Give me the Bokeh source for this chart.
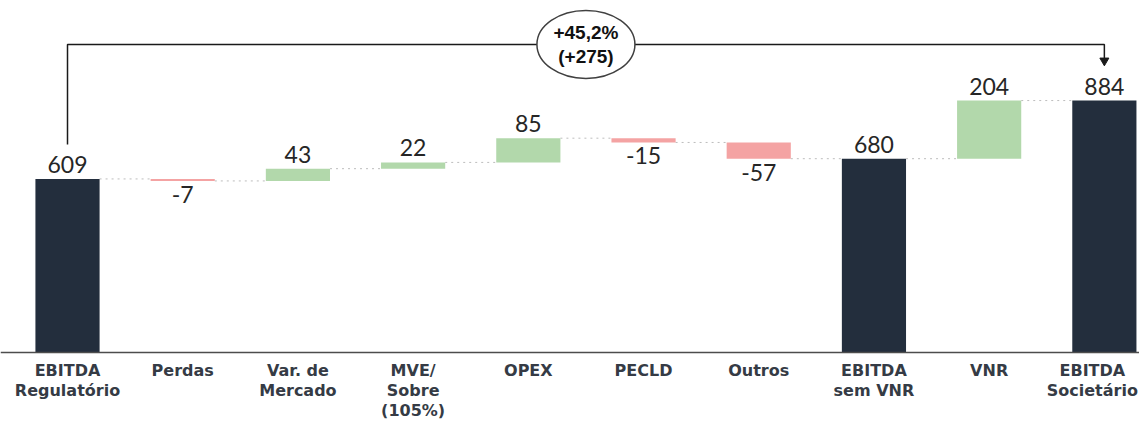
from bokeh.plotting import figure
from bokeh.models import ColumnDataSource, Span
from bokeh.core.properties import value
from bokeh.embed import file_html
from bokeh.resources import INLINE

categories = ["EBITDA\nRegulatório", "Perdas", "Var. de\nMercado", "MVE/\nSobre\n(105%)", "OPEX",
              "PECLD", "Outros", "EBITDA\nsem VNR", "VNR", "EBITDA\nSocietário"]
values = [609, -7, 43, 22, 85, -15, -57, 680, 204, 884]
kinds = ["total", "delta", "delta", "delta", "delta", "delta", "delta", "total", "delta", "total"]

DARK = "#232E3D"
GREEN = "#B2D8AB"
RED = "#F4A3A3"

xs = list(range(len(values)))
bottoms, tops, colors, ends = [], [], [], []
running = 0
for v, k in zip(values, kinds):
    if k == "total":
        b, t = 0, v
        colors.append(DARK)
    else:
        b, t = running, running + v
        colors.append(GREEN if v >= 0 else RED)
    running = t
    ends.append(running)
    bottoms.append(min(b, t))
    tops.append(max(b, t))

p = figure(width=1139, height=420, x_range=(-0.5816, 9.305), y_range=(-238.6, 1235.1),
           output_backend="svg", toolbar_location=None, y_axis_location=None,
           x_axis_location=None,
           min_border_left=0, min_border_right=0, min_border_top=0, min_border_bottom=0)
p.outline_line_color = None
p.xgrid.visible = False
p.ygrid.visible = False
p.background_fill_color = "white"
p.border_fill_color = "white"

W = 0.557
src = ColumnDataSource(dict(x=xs, bottom=bottoms, top=tops, color=colors))

# connectors
cx0 = [x + W / 2 for x in xs[:-1]]
cx1 = [x + 1 - W / 2 for x in xs[:-1]]
p.segment(x0=cx0, y0=ends[:-1], x1=cx1, y1=ends[:-1], line_color="#bdbdbd",
          line_width=1, line_dash="dotted")

p.vbar(x="x", bottom="bottom", top="top", width=W, color="color", source=src, line_color=None)

# baseline (category axis line)
p.add_layout(Span(location=0, dimension="width", line_color="#4d4d4d", line_width=1.5))

# category labels (last one nudged left so it stays inside the canvas)
lab_dx = [0] * (len(xs) - 1) + [-12]
lab_src = ColumnDataSource(dict(x=xs, y=[0] * len(xs), text=categories, dx=lab_dx))
p.text(x="x", y="y", text="text", x_offset="dx", source=lab_src, text_align="center",
       text_baseline="top", y_offset=9, text_font=value("DejaVu Sans"), text_font_style="bold",
       text_font_size="16px", text_color="#353b45", text_line_height=1.05)

# value labels
up_x, up_y, up_t, dn_x, dn_y, dn_t = [], [], [], [], [], []
for x, v, b, t in zip(xs, values, bottoms, tops):
    if v >= 0:
        up_x.append(x); up_y.append(t); up_t.append(str(v))
    else:
        dn_x.append(x); dn_y.append(b); dn_t.append(str(v))
p.text(x=up_x, y=up_y, text=up_t, text_align="center", text_baseline="bottom", y_offset=-6,
       text_font=value("Lato"), text_font_size="23px", text_color="#262626")
p.text(x=dn_x, y=dn_y, text=dn_t, text_align="center", text_baseline="top", y_offset=5,
       text_font=value("Lato"), text_font_size="23px", text_color="#262626")

# bracket
first_i, last_i = 0, len(values) - 1
by = 1081
p.line(x=[first_i, first_i, last_i, last_i], y=[ends[first_i] + 121, by, by, ends[last_i] + 145],
       line_color="#1a1a1a", line_width=1.5)
p.scatter(x=[last_i], y=[ends[last_i] + 140], marker="inverted_triangle", size=9,
          color="#1a1a1a")
mid = (first_i + last_i) / 2
p.ellipse(x=[mid], y=[by], width=98, height=68, width_units="screen", height_units="screen",
          fill_color="white", line_color="#404040", line_width=1.5)
diff = ends[last_i] - ends[first_i]
pct = diff / ends[first_i] * 100
pct_txt = ("+" if pct >= 0 else "") + f"{pct:.1f}".replace(".", ",") + "%"
abs_txt = "(" + ("+" if diff >= 0 else "") + f"{diff}" + ")"
p.text(x=[mid], y=[by], text=[pct_txt], text_align="center", text_baseline="middle",
       y_offset=-12, text_font=value("Liberation Sans"), text_font_style="bold",
       text_font_size="19px", text_color="#111111")
p.text(x=[mid], y=[by], text=[abs_txt], text_align="center", text_baseline="middle",
       y_offset=12, text_font=value("Liberation Sans"), text_font_style="bold",
       text_font_size="19px", text_color="#111111")

open("out.html", "w").write(file_html(p, INLINE))
